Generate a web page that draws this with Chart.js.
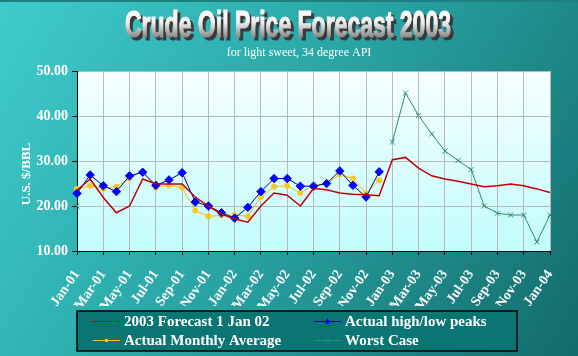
<!DOCTYPE html>
<html><head><meta charset="utf-8">
<script src="https://cdn.jsdelivr.net/npm/chart.js@4/dist/chart.umd.min.js"></script>
<style>html,body{margin:0;padding:0;background:#2a9d9d;overflow:hidden}#wrap{width:578px;height:356px;position:relative}</style>
</head><body><div id="wrap"><canvas id="c" width="578" height="356"></canvas></div>
<script>
const months = ["Jan-01","Feb-01","Mar-01","Apr-01","May-01","Jun-01","Jul-01","Aug-01","Sep-01","Oct-01","Nov-01","Dec-01",
"Jan-02","Feb-02","Mar-02","Apr-02","May-02","Jun-02","Jul-02","Aug-02","Sep-02","Oct-02","Nov-02","Dec-02",
"Jan-03","Feb-03","Mar-03","Apr-03","May-03","Jun-03","Jul-03","Aug-03","Sep-03","Oct-03","Nov-03","Dec-03","Jan-04"];

const forecast2003 = [23.5,26.0,21.9,18.5,20.0,26.0,24.9,24.9,24.9,22.0,20.0,18.2,
17.1,16.4,20.0,22.9,22.4,20.0,23.9,23.6,22.9,22.6,22.5,22.3,
30.3,30.8,28.4,26.7,26.0,25.5,24.9,24.3,24.5,24.9,24.5,23.8,23.0];

const highLowPeaks = [22.8,26.9,24.5,23.2,26.7,27.5,24.6,25.8,27.4,20.9,20.0,18.5,
17.3,19.7,23.2,26.1,26.1,24.4,24.4,25.0,27.8,24.6,22.0,27.6,
null,null,null,null,null,null,null,null,null,null,null,null,null];

const monthlyAverage = [23.8,24.5,23.9,24.3,26.1,27.7,24.1,24.6,24.1,19.0,17.7,17.9,
18.0,17.7,22.0,24.3,24.5,22.9,24.6,24.9,27.0,26.1,22.8,25.7,
null,null,null,null,null,null,null,null,null,null,null,null,null];

const worstCase = [20.0,null,null,null,null,null,null,null,null,null,null,null,
null,null,null,null,null,null,null,null,null,null,null,null,
34.2,45.1,40.1,36.0,32.2,30.1,28.1,20.0,18.4,18.0,18.0,12.0,18.0];

const seriesNames = ["2003 Forecast 1 Jan 02","Actual high/low peaks","Actual Monthly Average","Worst Case"];
const yTicks = [10,20,30,40,50];

const SERIF = "'Liberation Serif', 'DejaVu Serif', serif";

const decor = {
  id:'decor',
  beforeDraw(chart){
    const ctx = chart.ctx, W = chart.width, H = chart.height, a = chart.chartArea;
    ctx.save();
    const g = ctx.createLinearGradient(0,0,W,H);
    g.addColorStop(0,'#40cccc');
    g.addColorStop(0.5,'#28a2a2');
    g.addColorStop(1,'#136a6a');
    ctx.fillStyle = g; ctx.fillRect(0,0,W,H);
    ctx.fillStyle = '#1f7f7f'; ctx.fillRect(0,0,W,2);
    const pg = ctx.createLinearGradient(0,a.top,0,a.bottom);
    pg.addColorStop(0,'#f6ffff');
    pg.addColorStop(1,'#c2fcfc');
    ctx.fillStyle = pg; ctx.fillRect(a.left,a.top,a.right-a.left,a.bottom-a.top);
    ctx.restore();
  },
  afterDraw(chart){
    const ctx = chart.ctx;
    ctx.save();
    // Title
    const title = "Crude Oil Price Forecast 2003";
    ctx.font = "bold 36px 'Liberation Sans', Arial, sans-serif";
    const tw = ctx.measureText(title).width;
    const sx = 326 / tw;
    ctx.save();
    ctx.translate(288, 37);
    ctx.scale(sx, 1);
    ctx.textAlign = 'center'; ctx.textBaseline = 'alphabetic';
    ctx.fillStyle = '#3a3a3a';
    ctx.strokeStyle = '#3a3a3a'; ctx.lineWidth = 1.2;
    ctx.fillText(title, 3/sx, 3);
    ctx.strokeText(title, 3/sx, 3);
    const tg = ctx.createLinearGradient(0,-26,0,0);
    tg.addColorStop(0,'#ffffff');
    tg.addColorStop(0.45,'#eeeeee');
    tg.addColorStop(1,'#8a8a8a');
    ctx.fillStyle = tg;
    ctx.strokeStyle = tg;
    ctx.fillText(title, 0, 0);
    ctx.strokeText(title, 0, 0);
    ctx.restore();
    // Subtitle
    ctx.fillStyle = '#ffffff';
    ctx.font = "12px " + SERIF;
    ctx.textAlign = 'center';
    ctx.fillText("for light sweet, 34 degree API", 299, 55.5);
    // Y axis title
    ctx.save();
    ctx.translate(27, 174);
    ctx.rotate(-Math.PI/2);
    ctx.font = "bold 13px " + SERIF;
    ctx.textAlign = 'center'; ctx.textBaseline = 'middle';
    ctx.fillStyle = '#ffffff';
    ctx.fillText("U.S. $/BBL", 0, 0);
    ctx.restore();
    // Legend
    const lx = 77, ly = 311, lw = 440, lh = 40;
    ctx.fillStyle = '#0a7572';
    ctx.fillRect(lx, ly, lw, lh);
    ctx.strokeStyle = '#000000'; ctx.lineWidth = 1.5;
    ctx.strokeRect(lx, ly, lw, lh);
    const ds = chart.data.datasets;
    const pos = [[93,321],[314,321],[93,340],[314,340]];
    ds.forEach((d,i)=>{
      const [x,y] = pos[i];
      ctx.strokeStyle = d.borderColor; ctx.lineWidth = 1;
      ctx.beginPath(); ctx.moveTo(x,y+0.5); ctx.lineTo(x+27,y+0.5); ctx.stroke();
      const cx = x+13.5;
      if (d.pointStyle === 'rectRot'){
        ctx.fillStyle = d.pointBackgroundColor;
        ctx.beginPath(); ctx.moveTo(cx,y-2.5); ctx.lineTo(cx+2.5,y+0.5); ctx.lineTo(cx,y+3.5); ctx.lineTo(cx-2.5,y+0.5); ctx.closePath(); ctx.fill();
      } else if (d.pointStyle === 'circle' && d.pointRadius>0){
        ctx.fillStyle = d.pointBackgroundColor;
        ctx.beginPath(); ctx.arc(cx,y+0.5,1.8,0,Math.PI*2); ctx.fill();
      } else if (d.pointStyle === 'crossRot'){
        ctx.strokeStyle = d.borderColor;
        ctx.beginPath(); ctx.moveTo(cx-2,y-1.5); ctx.lineTo(cx+2,y+2.5); ctx.moveTo(cx+2,y-1.5); ctx.lineTo(cx-2,y+2.5); ctx.stroke();
      }
      ctx.fillStyle = '#ffffff';
      ctx.font = "bold 15px " + SERIF;
      ctx.textAlign = 'left'; ctx.textBaseline = 'middle';
      ctx.fillText(d.label, x+31, y+1);
    });
    ctx.restore();
  }
};

new Chart(document.getElementById('c'), {
  type:'line',
  data:{
    labels: months,
    datasets:[
      {label:seriesNames[0], data:forecast2003, borderColor:'#c00000', borderWidth:1.5, pointRadius:0, pointStyle:'circle', tension:0},
      {label:seriesNames[1], data:highLowPeaks, borderColor:'#00008c', borderWidth:1, pointStyle:'rectRot', pointRadius:4.2, pointBackgroundColor:'#0000ff', pointBorderColor:'#0000ff', pointBorderWidth:1, tension:0},
      {label:seriesNames[2], data:monthlyAverage, borderColor:'#f0c000', borderWidth:1, pointStyle:'circle', pointRadius:2.6, pointBackgroundColor:'#f5c828', pointBorderColor:'#f5c828', tension:0},
      {label:seriesNames[3], data:worstCase, borderColor:'#2e8b6a', borderWidth:1, pointStyle:'crossRot', pointRadius:3.5, pointBorderColor:'#2e8b6a', pointBorderWidth:1, tension:0}
    ]
  },
  options:{
    responsive:false, animation:false, devicePixelRatio:1,
    layout:{padding:{left:0, top:71, right:28, bottom:50}},
    plugins:{legend:{display:false}, title:{display:false}, tooltip:{enabled:false}},
    scales:{
      x:{
        offset:false,
        grid:{
          color:(c)=> (c.index%2===0 ? '#b8b8b8' : 'rgba(0,0,0,0)'),
          tickColor:(c)=> (c.index%2===0 ? '#000000' : 'rgba(0,0,0,0)'),
          tickLength:4, lineWidth:1
        },
        border:{color:'#000000', width:1},
        ticks:{autoSkip:false, maxRotation:55, minRotation:55, color:'#ffffff', padding:12,
          font:{family:SERIF, weight:'bold', size:14},
          callback:(v,i)=> (i%2===0 ? months[i] : '')},
        afterFit:(s)=>{ s.height = 55; }
      },
      y:{
        min:10, max:50,
        afterBuildTicks:(s)=>{ s.ticks = yTicks.map(v=>({value:v})); },
        grid:{color:'#b8b8b8', tickColor:'#000000', tickLength:5},
        border:{color:'#000000', width:1},
        ticks:{color:'#ffffff', padding:4, font:{family:SERIF, weight:'bold', size:14},
          callback:(v)=> Number(v).toFixed(2)},
        afterFit:(s)=>{ s.width = 77; }
      }
    }
  },
  plugins:[decor]
});
</script>
</body></html>
